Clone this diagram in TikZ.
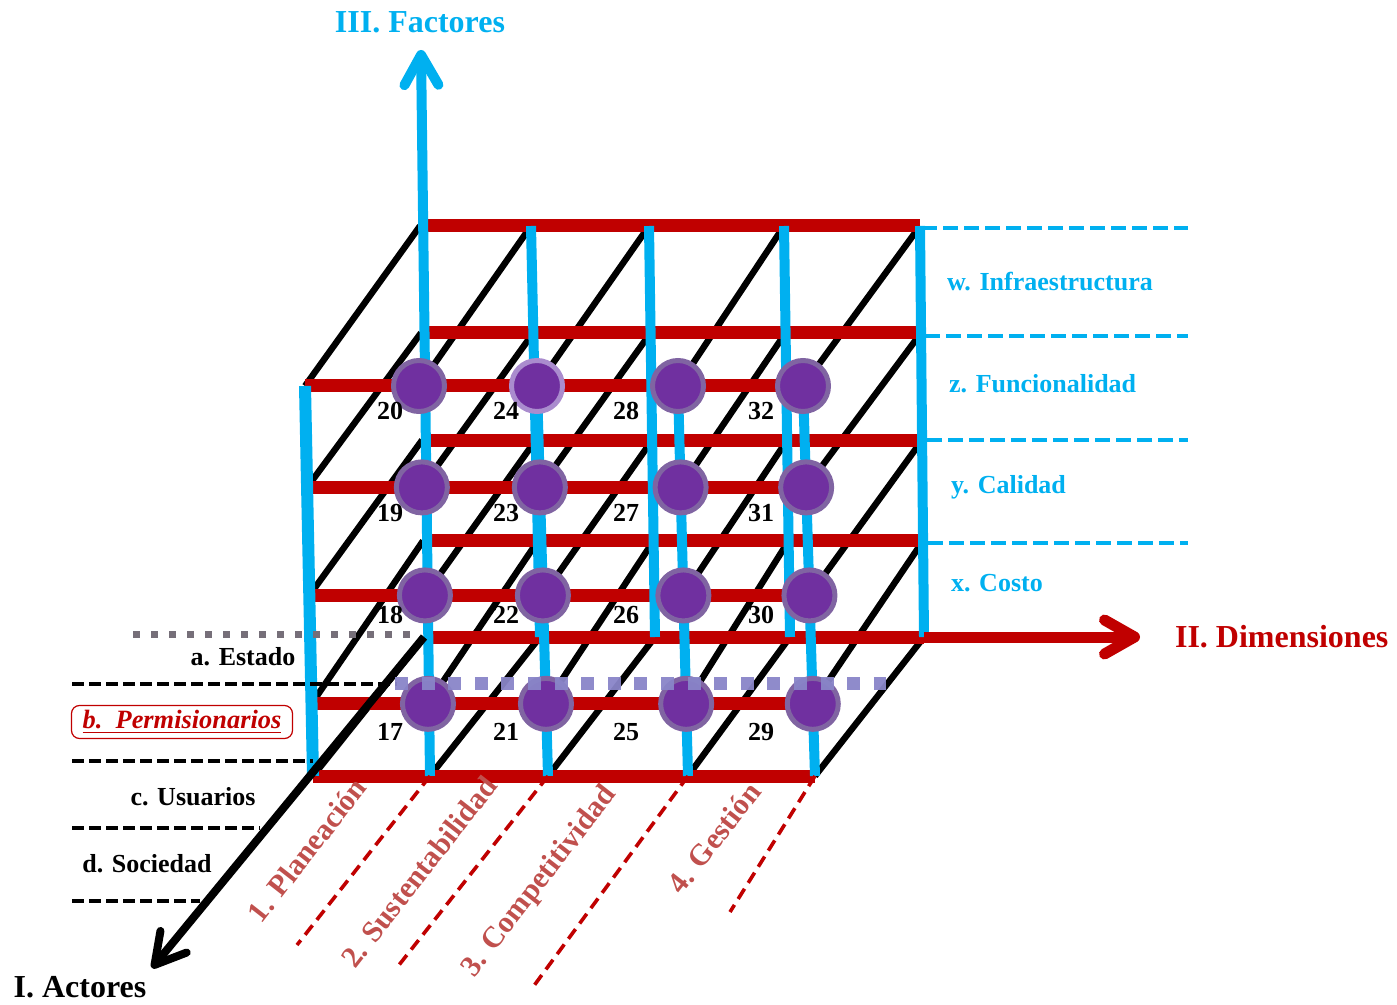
\documentclass[tikz,border=0pt]{standalone}
\usepackage{fontspec}
\setmainfont{Liberation Serif}
\usetikzlibrary{arrows.meta,calc}
\definecolor{CyanBlue}{RGB}{0,176,240}
\definecolor{DarkRed}{RGB}{192,0,0}
\definecolor{SoftRed}{RGB}{192,80,77}
\definecolor{Grape}{RGB}{112,48,160}
\definecolor{GrapeRim}{RGB}{128,100,162}
\definecolor{LightRim}{RGB}{170,140,206}
\definecolor{Lavender}{RGB}{137,133,200}
\definecolor{Slate}{RGB}{118,111,121}

\begin{document}
\begin{tikzpicture}[x=0.5pt, y=-0.5pt,
    redbar/.style={DarkRed, line width=6.5pt},
    bluebar/.style={CyanBlue, line width=5pt},
    depth/.style={black, line width=3.2pt},
    cell/.style={circle, fill=Grape, draw=GrapeRim, line width=2.5pt, minimum size=25.5pt, inner sep=0pt},
    cellno/.style={font=\fontsize{13}{15}\selectfont\bfseries},
    factor/.style={CyanBlue, anchor=west, font=\fontsize{13}{15}\selectfont\bfseries},
    actor/.style={font=\fontsize{13}{15}\selectfont\bfseries},
    dimen/.style={SoftRed, rotate=52, font=\fontsize{15}{17}\selectfont\bfseries},
    axislabel/.style={font=\fontsize{16}{19}\selectfont\bfseries},
    blackdash/.style={black, line width=1.7pt, dash pattern=on 6pt off 2.5pt},
    bluedash/.style={CyanBlue, line width=2pt, dash pattern=on 7.5pt off 3pt},
    reddash/.style={DarkRed, line width=1.8pt, dash pattern=on 6pt off 3.5pt},
    barb/.style={-{Straight Barb[length=15pt, width=17pt, round]}}
  ]
  \useasboundingbox (0,0) rectangle (1397,1005);

  % columns of the back and front planes (top and bottom ends)
  \foreach \j/\bt/\bb/\ft/\fb in {1/420/424/305/313, 2/531/540/419/430, 3/649/655/537/548, 4/784/790/678/688, 5/920/924/803/815}{
    \coordinate (bt\j) at (\bt,226);
    \coordinate (bb\j) at (\bb,637);
    \coordinate (ft\j) at (\ft,386);
    \coordinate (fb\j) at (\fb,776);
  }
  % levels
  \foreach \k/\tb/\tf in {1/0/0, 2/0.26/0.26, 3/0.521/0.537, 4/0.766/0.815, 5/1/1}
    \foreach \j in {1,...,5}{
      \coordinate (B\j\k) at ($(bt\j)!\tb!(bb\j)$);
      \coordinate (F\j\k) at ($(ft\j)!\tf!(fb\j)$);
    }

  \foreach \j in {1,...,5}
    \foreach \k in {1,...,5}
      \draw[depth] (B\j\k) -- (F\j\k);

  \foreach \k in {1,...,5}{
    \draw[redbar] (B1\k) -- (B5\k);
    \draw[redbar] (F1\k) -- (F5\k);
  }

  \foreach \j in {2,...,5}
    \draw[bluebar] (bt\j) -- (bb\j);
  \foreach \j in {3,4,5}
    \draw[bluebar] (ft\j) -- (fb\j);
  \draw[bluebar, line width=6pt] (ft1) -- (fb1);

  % axes
  \coordinate (ftip) at (421,50);
  \coordinate (dtip) at (1140,637);
  \coordinate (atip) at (152,968);
  \draw[bluebar, barb] (fb2) -- (ftip);
  \draw[redbar, line width=5.5pt, barb] (B55) -- (dtip);
  \draw[depth, line width=4pt, barb] (B15) -- (atip);
  \node[axislabel, CyanBlue] (factores) at (420,22) {III. Factores};
  \node[axislabel, DarkRed, anchor=west] (dimensiones) at (1168,637) {II. Dimensiones};
  \node[axislabel] (actores) at (80,987) {I. Actores};

  % cells
  \foreach \j/\lx in {2/390, 3/506, 4/626, 5/761}
    \foreach \k/\ly in {1/411, 2/513, 3/615, 4/732}{
      \pgfmathtruncatemacro{\n}{4*\j+13-\k}
      \ifnum\n=24 \def\rim{LightRim}\else\def\rim{GrapeRim}\fi
      \node[cell, draw=\rim] (c\n) at (F\j\k) {};
      \node[cellno] (n\n) at (\lx,\ly) {\n};
    }

  % factors
  \foreach \y/\ye in {228/922, 336/925, 440/927, 543/928}
    \draw[bluedash] (\ye,\y) -- (1188,\y);
  \node[factor] (fw) at (940,282) {w. Infraestructura};
  \node[factor] (fz) at (942,384) {z. Funcionalidad};
  \node[factor] (fy) at (944,487) {y. Calidad};
  \node[factor] (fx) at (944,583) {x. Costo};

  % actors
  \draw[line width=3.5pt, Slate, dash pattern=on 3.5pt off 5.5pt] (133,634) -- (420,634);
  \foreach \y/\xe in {684/397, 761/313, 828/260, 901/200}
    \draw[blackdash] (72,\y) -- (\xe,\y);
  \node[actor] (aa) at (243,657) {a. Estado};
  \node[draw=DarkRed, line width=0.6pt, rounded corners=4pt, minimum width=110.5pt, minimum height=16.5pt, inner sep=0pt,
        DarkRed, font=\fontsize{13.2}{15}\selectfont\bfseries\itshape] (ab) at (182,722) {\underline{b.\ \ Permisionarios}};
  \node[actor] (ac) at (193,797) {c. Usuarios};
  \node[actor] (ad) at (147,864) {d. Sociedad};
  \draw[line width=6.5pt, Lavender, opacity=0.95, dash pattern=on 6.5pt off 6.8pt] (395,683) -- (886,683);

  % dimensions
  \foreach \j/\ex/\ey in {2/297/945, 3/399/965, 4/533/987, 5/730/912}{
    \coordinate (d\j) at (\ex,\ey);
    \draw[reddash] (fb\j) -- (d\j);
  }
  \node[dimen] (dp) at (307,850) {1. Planeación};
  \node[dimen] (ds) at (419,872) {2. Sustentabilidad};
  \node[dimen] (dc) at (540,882) {3. Competitividad};
  \node[dimen] (dg) at (714,838) {4. Gestión};
\end{tikzpicture}
\end{document}
